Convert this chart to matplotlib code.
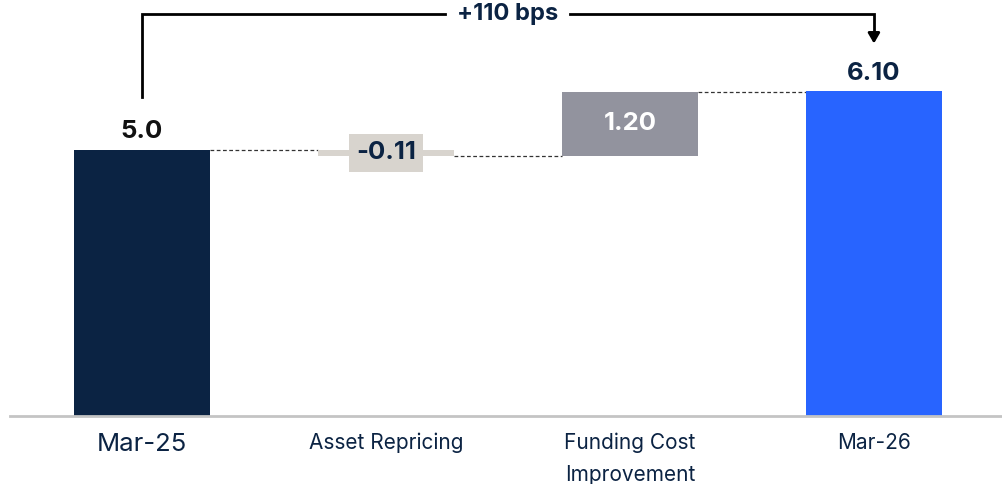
import matplotlib.pyplot as plt

plt.rcParams['font.family'] = ['Inter', 'DejaVu Sans']

categories = ["Mar-25", "Asset Repricing", "Funding Cost\nImprovement", "Mar-26"]
values = [5.0, -0.11, 1.20, 6.10]
labels = ["5.0", "-0.11", "1.20", "6.10"]
colors = ["#0B2343", "#D8D4CE", "#92939E", "#2864FF"]
change_text = "+110 bps"

navy = "#0B2343"

# waterfall: first and last are totals, middle are steps
bottoms = []
heights = []
running = 0
for i, v in enumerate(values):
    if i == 0 or i == len(values) - 1:
        bottoms.append(0)
        heights.append(v)
        running = v
    else:
        bottoms.append(running + min(v, 0))
        heights.append(abs(v))
        running += v

fig = plt.figure(figsize=(10.03, 4.84), dpi=100)
ax = fig.add_axes([10 / 1003, 68 / 484, 993 / 1003, 416 / 484])

x = list(range(len(values)))
w = 0.557
ax.bar(x, heights, bottom=bottoms, width=w, color=colors, zorder=2)

ax.set_xlim(-0.541, 3.529)
ax.set_ylim(0, 7.82)

# dashed connectors between bars (level where the next bar starts)
tops = [b + h for b, h in zip(bottoms, heights)]
levels = [tops[0], bottoms[1], tops[2]]
for i, lvl in enumerate(levels):
    ax.plot([i + w / 2, i + 1 - w / 2], [lvl, lvl], ls=(0, (3, 2)), color="#333333", lw=0.9, zorder=1)

# value labels
fs = 18.5
ax.text(0, tops[0] + 0.13, labels[0], ha="center", va="bottom", fontsize=fs, fontweight="bold", color="#111111")
ax.text(1, bottoms[1] + heights[1] / 2, labels[1], ha="center", va="center", fontsize=fs, fontweight="bold", color=navy,
        bbox=dict(boxstyle="square,pad=0.28", fc=colors[1], ec="none"), zorder=3)
ax.text(2, bottoms[2] + heights[2] / 2, labels[2], ha="center", va="center", fontsize=fs, fontweight="bold", color="white")
ax.text(3, tops[3] + 0.13, labels[3], ha="center", va="bottom", fontsize=fs, fontweight="bold", color=navy)

# bracket with change annotation
yb = 7.56
ax.plot([0, 0, 1.24], [6.0, yb, yb], color="black", lw=2, solid_joinstyle="miter", clip_on=False)
ax.plot([1.755, 3, 3], [yb, yb, 7.2], color="black", lw=2, solid_joinstyle="miter", clip_on=False)
ax.annotate("", xy=(3, 6.95), xytext=(3, 7.25),
            arrowprops=dict(arrowstyle="-|>,head_width=0.35,head_length=0.6", color="black", lw=2))
ax.text(1.497, yb, change_text, ha="center", va="center", fontsize=17, fontweight="bold", color=navy)

# axis styling
for s in ["top", "right", "left"]:
    ax.spines[s].set_visible(False)
ax.spines["bottom"].set_color("#C4C4C4")
ax.spines["bottom"].set_linewidth(2)
ax.set_yticks([])
ax.set_xticks(x)
ax.set_xticklabels(categories, color=navy, linespacing=1.75)
ax.tick_params(axis="x", length=0, pad=12)
for i, t in enumerate(ax.get_xticklabels()):
    t.set_fontsize(18.5 if i == 0 else 15)
    t.set_va("top")

fig.savefig("out.png", dpi=100)
